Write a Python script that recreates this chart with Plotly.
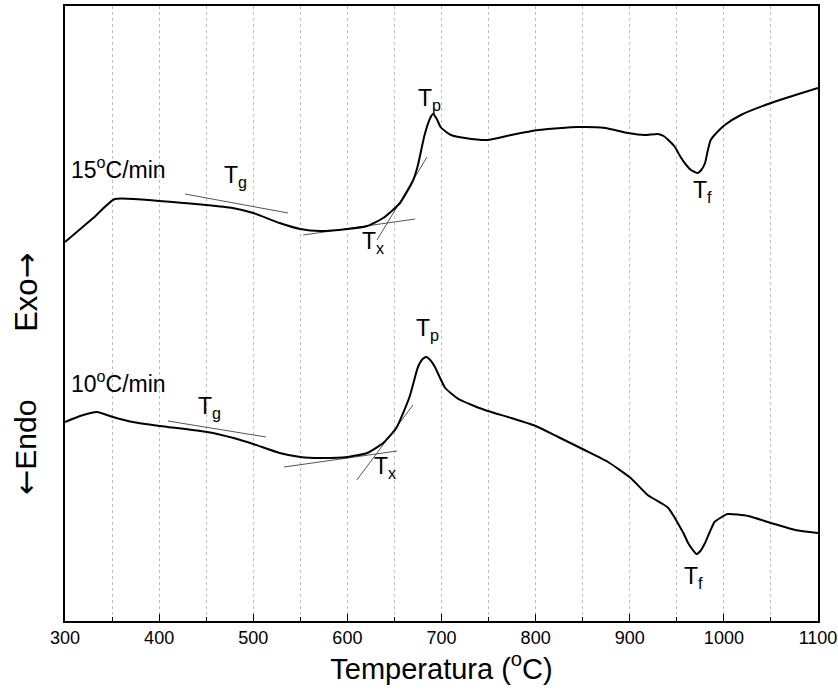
import plotly.graph_objects as go

# 15 °C/min curve (temperature °C, heat flow a.u.)
t15 = [300, 330, 353, 400, 450, 478, 500, 528, 550, 571, 600, 621, 638, 656, 670, 675, 682, 688, 691,
       695, 699, 705, 710, 725, 749, 774, 803, 845, 874, 898, 916, 930, 936, 941, 948, 954, 960, 965,
       969, 972, 976, 980, 983, 986, 992, 1001, 1018, 1050, 1076, 1100]
h15 = [379, 403, 422, 420, 416, 413, 408, 398, 392, 390, 392, 395, 403, 418, 441, 456, 486, 503, 507,
       502, 494, 489, 486, 483, 481, 486, 491, 494, 493, 488, 486, 487, 485, 481, 474, 464, 456, 451,
       449, 448, 451, 458, 471, 481, 488, 496, 506, 518, 526, 533]

# 10 °C/min curve
t10 = [300, 316, 334, 351, 372, 401, 451, 479, 500, 528, 550, 571, 600, 621, 638, 652, 666, 675, 680,
       684, 688, 693, 704, 718, 746, 774, 800, 824, 852, 877, 901, 919, 935, 941, 946, 951, 957, 962,
       967, 971, 975, 980, 985, 990, 996, 1004, 1026, 1050, 1076, 1100]
h10 = [199, 205, 209, 204, 199, 195, 189, 183, 177, 168, 164, 163, 164, 168, 178, 193, 224, 254, 262,
       264, 261, 254, 233, 222, 211, 203, 195, 184, 171, 159, 143, 126, 117, 113, 106, 98, 88, 78,
       71, 67, 70, 78, 89, 99, 103, 107, 105, 98, 91, 88]

# tangent construction lines: (x0, x1), (y0, y1)
tangents = [
    ([427.5, 537.0], [427, 408]),   # Tg 15
    ([553.0, 672.0], [386, 402]),   # Tx 15 baseline
    ([631.5, 684.6], [381, 464]),   # Tx 15 onset
    ([409.4, 513.5], [200, 184]),   # Tg 10
    ([532.7, 652.7], [154, 170]),   # Tx 10 baseline
    ([610.0, 669.7], [141, 216]),   # Tx 10 onset
]

# labels: (text, x, y)
labels = [
    ("15<sup>o</sup>C/min", 304, 453),
    ("T<sub>g</sub>", 467, 445),
    ("T<sub>p</sub>", 673, 522),
    ("T<sub>x</sub>", 613, 379),
    ("T<sub>f</sub>", 965, 430),
    ("10<sup>o</sup>C/min", 304, 239),
    ("T<sub>g</sub>", 439, 214),
    ("T<sub>p</sub>", 671, 292),
    ("T<sub>x</sub>", 626, 154),
    ("T<sub>f</sub>", 956, 44),
]

xticks = [300, 400, 500, 600, 700, 800, 900, 1000, 1100]

FONT = "Arial, Liberation Sans, sans-serif"
ARROW = '<span style="font-family:DejaVu Sans">%s</span>'

fig = go.Figure()
for xs, ys in tangents:
    fig.add_trace(go.Scatter(x=xs, y=ys, mode="lines",
                             line=dict(color="#555555", width=1), hoverinfo="skip"))
fig.add_trace(go.Scatter(x=t15, y=h15, mode="lines", name="15 °C/min",
                         line=dict(color="black", width=2, shape="spline", smoothing=0.5)))
fig.add_trace(go.Scatter(x=t10, y=h10, mode="lines", name="10 °C/min",
                         line=dict(color="black", width=2, shape="spline", smoothing=0.5)))

for txt, x, y in labels:
    fig.add_annotation(x=x, y=y, xref="x", yref="y", text=txt, showarrow=False,
                       xanchor="left", yanchor="middle",
                       font=dict(family=FONT, size=23, color="black"))

fig.add_annotation(x=-0.052, y=0.535, xref="paper", yref="paper", text="Exo" + ARROW % "→",
                   showarrow=False, textangle=-90, xanchor="center", yanchor="middle",
                   font=dict(family=FONT, size=31, color="black"))
fig.add_annotation(x=-0.052, y=0.283, xref="paper", yref="paper", text=ARROW % "←" + "Endo",
                   showarrow=False, textangle=-90, xanchor="center", yanchor="middle",
                   font=dict(family=FONT, size=30, color="black"))

fig.update_layout(
    width=838, height=695,
    margin=dict(l=65, r=20, t=6, b=74, autoexpand=False),
    plot_bgcolor="white", paper_bgcolor="white",
    showlegend=False,
    font=dict(family=FONT, color="black"),
    xaxis=dict(
        range=[300, 1100], tickvals=xticks, ticktext=[str(v) for v in xticks],
        ticks="inside", ticklen=7, tickwidth=1, tickcolor="black",
        tickfont=dict(size=18, family=FONT), automargin=False,
        showline=True, linecolor="black", linewidth=1.5, mirror=True,
        showgrid=True, gridcolor="#bcbccc", griddash="dot", gridwidth=1,
        minor=dict(dtick=50, tick0=300, ticks="inside", ticklen=4, tickcolor="black",
                   showgrid=True, gridcolor="#bcbccc", griddash="dot", gridwidth=1),
        title=dict(text="Temperatura (<sup>o</sup>C)", font=dict(size=29, family=FONT), standoff=8),
        zeroline=False,
    ),
    yaxis=dict(
        range=[0, 615], showticklabels=False, ticks="", showgrid=False, zeroline=False,
        showline=True, linecolor="black", linewidth=1.5, mirror=True, automargin=False,
    ),
)

fig.write_html("out.html", config={"displayModeBar": False},
               post_script="document.body.style.margin='0';document.body.style.overflow='hidden';")
